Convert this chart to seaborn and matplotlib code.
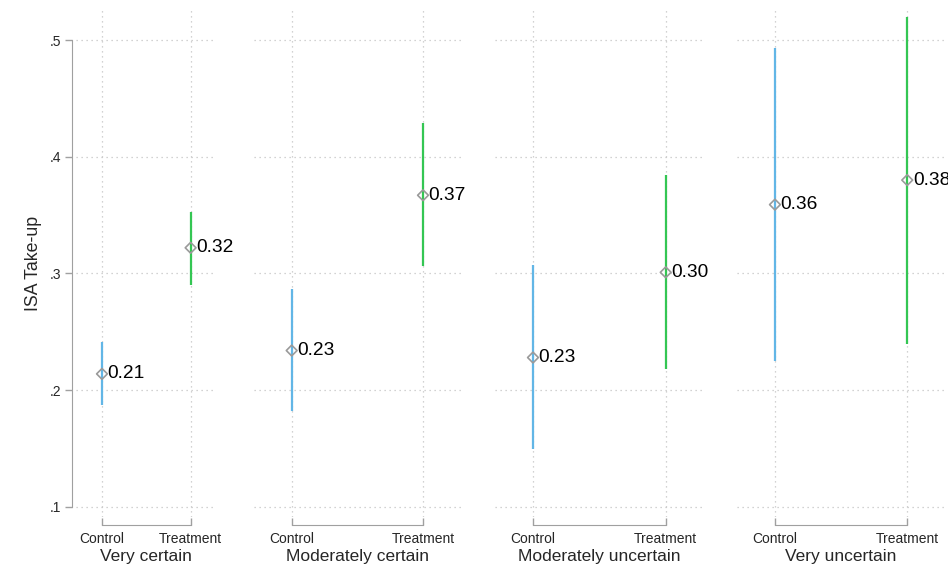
import numpy as np
import pandas as pd
import matplotlib.pyplot as plt
import seaborn as sns

# Data
groups = ["Very certain", "Moderately certain", "Moderately uncertain", "Very uncertain"]
arms = ["Control", "Treatment"]
takeup = [0.214, 0.322, 0.234, 0.367, 0.228, 0.301, 0.359, 0.380]
ci_low = [0.187, 0.290, 0.182, 0.306, 0.150, 0.218, 0.225, 0.240]
ci_high = [0.241, 0.353, 0.287, 0.429, 0.307, 0.384, 0.493, 0.520]

df = pd.DataFrame({
    "group": np.repeat(groups, len(arms)),
    "arm": arms * len(groups),
    "takeup": takeup,
    "lo": ci_low,
    "hi": ci_high,
})
df["pos"] = df["arm"].map({a: i for i, a in enumerate(arms)})

arm_colors = {"Control": "#62b6e6", "Treatment": "#34c653"}

sns.set_style("white")
plt.rcParams['font.family'] = ['Liberation Sans', 'DejaVu Sans']

W, H = 948, 571
fig = plt.figure(figsize=(W / 100, H / 100), dpi=100)

# panel placement in pixels (left, width)
panels = [(76.3, 140.0), (253.6, 207.5), (494.5, 209.7), (736.6, 209.0)]
top_px, bot_px = 10, 517

for k, (g, (left, width)) in enumerate(zip(groups, panels)):
    ax = fig.add_axes([left / W, (H - bot_px) / H, width / W, (bot_px - top_px) / H])
    sub = df[df["group"] == g]

    ax.vlines(sub["pos"], sub["lo"], sub["hi"],
              colors=[arm_colors[a] for a in sub["arm"]], lw=1.6, zorder=3)
    sns.scatterplot(data=sub, x="pos", y="takeup", marker="D", s=30,
                    facecolor="none", edgecolor="#9a9a9a", linewidth=1.2,
                    ax=ax, zorder=4, legend=False)
    for _, r in sub.iterrows():
        ax.annotate(f"{r['takeup']:.2f}", (r["pos"], r["takeup"]), xytext=(4, 0),
                    textcoords="offset points", va="center", ha="left",
                    fontsize=13.8, color="black", zorder=5)

    ax.set_xlim(-0.29, 1.29)
    ax.set_ylim(0.0914, 0.5257)
    ax.set_xticks(range(len(arms)))
    ax.set_xticklabels(arms, fontsize=10.5)
    ax.set_yticks([0.1, 0.2, 0.3, 0.4, 0.5])
    ax.grid(True, ls=(0, (1, 3)), color="#c4c4c4", lw=0.9)
    ax.set_axisbelow(True)

    for s in ["top", "right"]:
        ax.spines[s].set_visible(False)
    ax.spines["bottom"].set_position(("outward", 6))
    ax.spines["bottom"].set_bounds(0, 1)
    ax.spines["bottom"].set_color("#a0a0a0")
    ax.tick_params(axis="x", bottom=True, direction="in", length=5, width=1,
                   color="#a0a0a0", pad=5)
    ax.set_xlabel(g, fontsize=12.5, labelpad=2)

    if k == 0:
        ax.spines["left"].set_position(("outward", 3))
        ax.spines["left"].set_bounds(0.1, 0.5)
        ax.spines["left"].set_color("#a0a0a0")
        ax.set_yticklabels([".1", ".2", ".3", ".4", ".5"], fontsize=10)
        ax.tick_params(axis="y", left=True, direction="out", length=5, width=1,
                       color="#a0a0a0", pad=3)
        ax.set_ylabel("ISA Take-up", fontsize=12.8, labelpad=5)
    else:
        ax.spines["left"].set_visible(False)
        ax.tick_params(axis="y", length=0, labelleft=False)
        ax.set_ylabel("")

fig.savefig("out.png", dpi=100)
